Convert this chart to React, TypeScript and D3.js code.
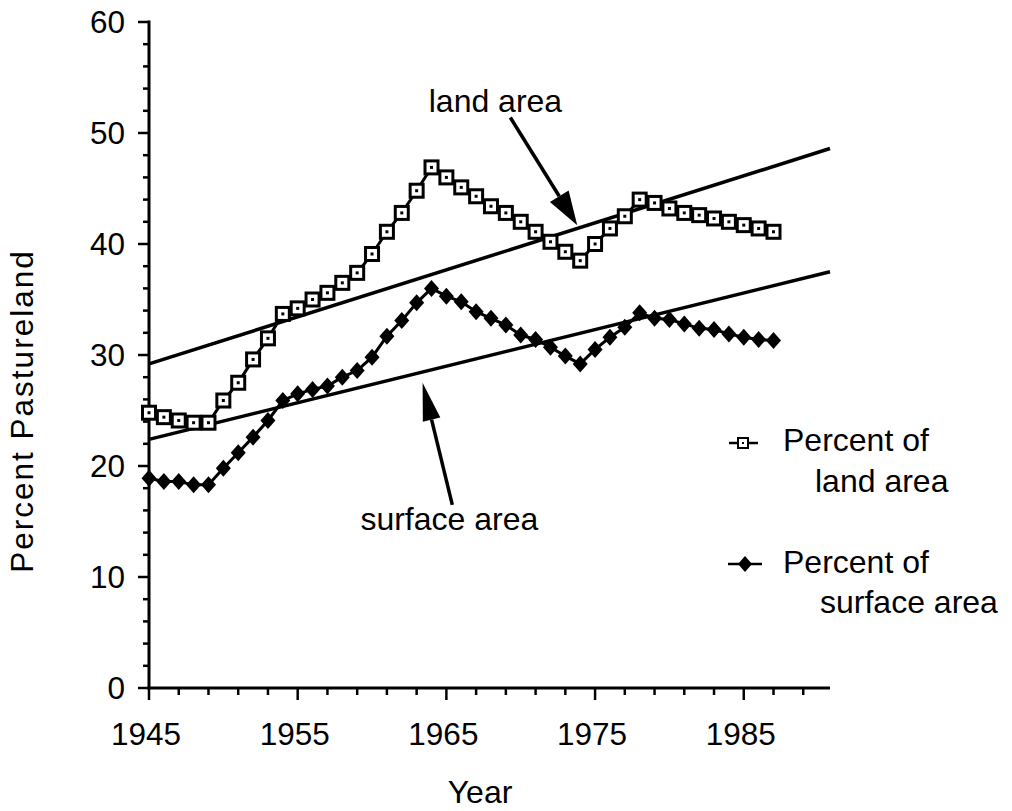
import React from "react";
import * as d3 from "d3";

// years 1945..1987, one point each
const years = d3.range(1945, 1988);
const landArea = [
  24.8, 24.4, 24.1, 23.9, 23.9, 25.9, 27.5, 29.6, 31.5, 33.7,
  34.2, 35.0, 35.6, 36.5, 37.4, 39.1, 41.1, 42.8, 44.8, 46.9,
  46.0, 45.1, 44.3, 43.4, 42.8, 42.0, 41.1, 40.2, 39.3, 38.5,
  40.0, 41.4, 42.5, 44.0, 43.7, 43.2, 42.8, 42.6, 42.3, 42.0,
  41.7, 41.4, 41.1,
];
const surfaceArea = [
  18.9, 18.6, 18.6, 18.3, 18.3, 19.8, 21.2, 22.6, 24.1, 25.9,
  26.5, 26.9, 27.2, 28.0, 28.6, 29.8, 31.7, 33.1, 34.7, 36.0,
  35.3, 34.8, 33.9, 33.3, 32.7, 31.8, 31.4, 30.7, 29.9, 29.2,
  30.5, 31.6, 32.5, 33.8, 33.3, 33.2, 32.8, 32.4, 32.3, 31.9,
  31.6, 31.4, 31.3,
];
const trendYears = [1945, 1990.8];
const landTrend = [29.2, 48.6];
const surfaceTrend = [22.4, 37.5];

const xTickLabels = [1945, 1955, 1965, 1975, 1985];
const yTickLabels = [0, 10, 20, 30, 40, 50, 60];

// annotation anchors in data units: [year, value]
const landLabel = { text: "land area", at: [1968.3, 51.9], tail: [1969.3, 51.4], tip: [1973.8, 41.7] };
const surfLabel = { text: "surface area", at: [1965.2, 14.2], tail: [1965.4, 16.5], tip: [1963.4, 27.5] };

const FONT = "'Liberation Sans', Arial, Helvetica, sans-serif";

function Arrow({ x1, y1, x2, y2, len, half }) {
  const a = Math.atan2(y2 - y1, x2 - x1);
  const bx = x2 - len * Math.cos(a);
  const by = y2 - len * Math.sin(a);
  const px = -Math.sin(a) * half;
  const py = Math.cos(a) * half;
  return (
    <g>
      <line x1={x1} y1={y1} x2={bx} y2={by} stroke="#000" strokeWidth={3.5} />
      <polygon points={`${x2},${y2} ${bx + px},${by + py} ${bx - px},${by - py}`} fill="#000" />
    </g>
  );
}

function Square({ x, y }) {
  return (
    <g>
      <rect x={x - 6.5} y={y - 6.5} width={13} height={13} fill="#fff" stroke="#000" strokeWidth={3} />
      <rect x={x - 1.5} y={y - 1.5} width={3} height={3} fill="#000" />
    </g>
  );
}

function Diamond({ x, y }) {
  return <path d={`M${x},${y - 8.5} L${x + 7.5},${y} L${x},${y + 8.5} L${x - 7.5},${y} Z`} fill="#000" />;
}

export default function App() {
  const width = 1012;
  const height = 811;
  const x = d3.scaleLinear().domain([1945, 1990.8]).range([149, 830]);
  const y = d3.scaleLinear().domain([0, 60]).range([688, 22]);

  const line = d3
    .line<number>()
    .x((d, i) => x(years[i]))
    .y(d => y(d));

  const trend = d3
    .line<number>()
    .x((d, i) => x(trendYears[i]))
    .y(d => y(d));

  const xMinor = d3.range(1945, 1990, 2);
  const yMinor = d3.range(0, 61, 2);

  return (
    <svg
      width={width}
      height={height}
      style={{ position: "absolute", left: 0, top: 0, background: "#fff" }}
      fontFamily={FONT}
    >
      {/* axes */}
      <line x1={x(1945)} x2={x(1945)} y1={y(0) + 1.5} y2={y(60) - 1.5} stroke="#000" strokeWidth={3} />
      <line x1={x(1945) - 1.5} x2={x.range()[1]} y1={y(0)} y2={y(0)} stroke="#000" strokeWidth={3} />
      {yMinor.map(v => (
        <line
          key={"ym" + v}
          x1={x(1945)}
          x2={x(1945) - (v % 10 === 0 ? 11 : 6)}
          y1={y(v)}
          y2={y(v)}
          stroke="#000"
          strokeWidth={2.5}
        />
      ))}
      {xMinor.map(v => (
        <line
          key={"xm" + v}
          x1={x(v)}
          x2={x(v)}
          y1={y(0)}
          y2={y(0) + ((v - 1945) % 10 === 0 ? 12 : 7)}
          stroke="#000"
          strokeWidth={2.5}
        />
      ))}
      {yTickLabels.map(v => (
        <text key={"yl" + v} x={125} y={y(v) + 11} textAnchor="end" fontSize={31.5}>
          {v}
        </text>
      ))}
      {xTickLabels.map(v => (
        <text key={"xl" + v} x={x(v) - 3} y={745} textAnchor="middle" fontSize={31.5}>
          {v}
        </text>
      ))}
      <text x={480} y={803} textAnchor="middle" fontSize={32}>
        Year
      </text>
      <text
        transform={`translate(33,${411}) rotate(-90)`}
        textAnchor="middle"
        fontSize={31.5}
        letterSpacing={2}
      >
        Percent Pastureland
      </text>

      {/* trend lines */}
      <path d={trend(landTrend) || ""} fill="none" stroke="#000" strokeWidth={3.5} />
      <path d={trend(surfaceTrend) || ""} fill="none" stroke="#000" strokeWidth={3.5} />

      {/* series */}
      <path d={line(landArea) || ""} fill="none" stroke="#000" strokeWidth={3} />
      <path d={line(surfaceArea) || ""} fill="none" stroke="#000" strokeWidth={3} />
      {landArea.map((v, i) => (
        <Square key={"s" + i} x={x(years[i])} y={y(v)} />
      ))}
      {surfaceArea.map((v, i) => (
        <Diamond key={"d" + i} x={x(years[i])} y={y(v)} />
      ))}

      {/* annotations */}
      <text x={x(landLabel.at[0])} y={y(landLabel.at[1])} textAnchor="middle" fontSize={32}>
        {landLabel.text}
      </text>
      <Arrow
        x1={x(landLabel.tail[0])}
        y1={y(landLabel.tail[1])}
        x2={x(landLabel.tip[0])}
        y2={y(landLabel.tip[1])}
        len={34}
        half={11}
      />
      <text x={x(surfLabel.at[0])} y={y(surfLabel.at[1])} textAnchor="middle" fontSize={32}>
        {surfLabel.text}
      </text>
      <Arrow
        x1={x(surfLabel.tail[0])}
        y1={y(surfLabel.tail[1])}
        x2={x(surfLabel.tip[0])}
        y2={y(surfLabel.tip[1])}
        len={38}
        half={9}
      />

      {/* legend */}
      <g fontSize={32}>
        <line x1={729} x2={758} y1={443} y2={443} stroke="#000" strokeWidth={2.5} />
        <rect x={738} y={438} width={10} height={10} fill="#fff" stroke="#000" strokeWidth={2} />
        <rect x={742} y={442} width={2} height={2} fill="#000" />
        <text x={783} y={451}>Percent of</text>
        <text x={815} y={492}>land area</text>

        <line x1={728} x2={762} y1={564} y2={564} stroke="#000" strokeWidth={2.5} />
        <path d="M745,556 L752,564 L745,572 L738,564 Z" fill="#000" />
        <text x={783} y={573}>Percent of</text>
        <text x={820} y={613}>surface area</text>
      </g>
    </svg>
  );
}
